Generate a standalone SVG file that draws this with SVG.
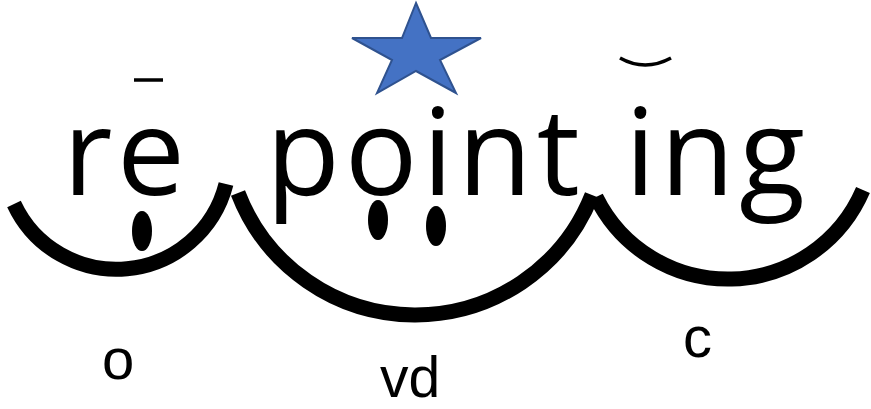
<svg xmlns="http://www.w3.org/2000/svg" width="871" height="409" viewBox="0 0 871 409">
  <style>
    .word { font-family: "Open Sans", "Segoe UI", sans-serif; font-size: 121px; fill: #000; }
    .label { font-family: "Liberation Sans", Arial, sans-serif; font-size: 58px; fill: #000; }
    .arc { fill: none; stroke: #000; stroke-width: 15; stroke-linecap: butt; }
    .mark { fill: none; stroke: #000; stroke-width: 3.5; }
    .dot { fill: #000; }
  </style>
  <rect width="871" height="409" fill="#fff"/>
  <g id="connectors">
    <path class="arc" d="M14,204 A113,113 0 0 0 226,184"/>
    <path class="arc" d="M238,193 A190,190 0 0 0 592,195"/>
    <path class="arc" d="M596,197 A147,147 0 0 0 863,190"/>
  </g>
  <g id="syllable-re">
    <text class="word" x="63" y="195" textLength="122" lengthAdjust="spacing">re</text>
    <line class="mark" x1="134" y1="80" x2="163" y2="80"/>
    <ellipse class="dot" cx="142" cy="231" rx="10" ry="20"/>
    <text class="label" x="102" y="379">o</text>
  </g>
  <g id="syllable-point">
    <polygon points="416,3 431,38 481,38 440,60 456,93 416,71 377,93 392,60 352,38 402,38" fill="#4472C4" stroke="#2F528F" stroke-width="2" stroke-linejoin="miter"/>
    <text class="word" x="266" y="195" textLength="314" lengthAdjust="spacing">point</text>
    <ellipse class="dot" cx="378" cy="220" rx="10" ry="20"/>
    <ellipse class="dot" cx="436" cy="226" rx="10" ry="20"/>
    <text class="label" x="380" y="397" style="font-size:57px">vd</text>
  </g>
  <g id="syllable-ing">
    <text class="word" x="625" y="195" textLength="180" lengthAdjust="spacing">ing</text>
    <path class="mark" d="M620,58 Q645,72 671,58"/>
    <text class="label" x="683" y="357">c</text>
  </g>
</svg>
